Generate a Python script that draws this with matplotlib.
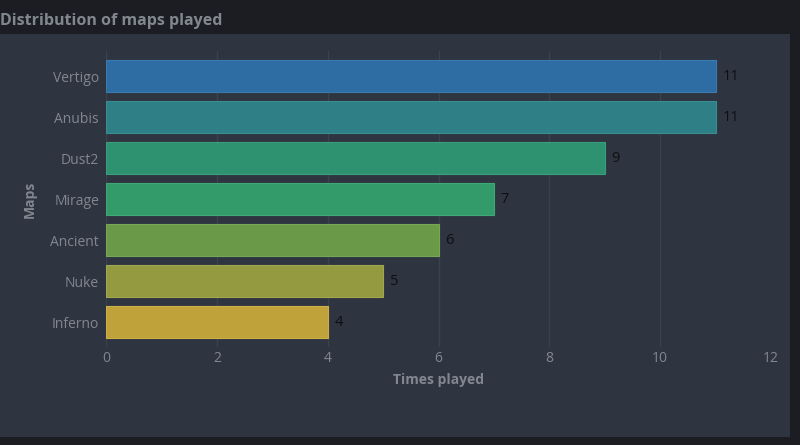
import numpy as np
import matplotlib
matplotlib.use('Agg')
from matplotlib import pyplot as plt

maps = ['Vertigo', 'Anubis', 'Dust2', 'Mirage', 'Ancient', 'Nuke', 'Inferno']
times_played = [11, 11, 9, 7, 6, 5, 4]
bar_colors = ['#2e6da4', '#2e8086', '#2e9271', '#339a6a', '#6a9948', '#939a3f', '#bfa23a']
x_ticks = [0, 2, 4, 6, 8, 10, 12]

plt.rcParams['font.family'] = ['Open Sans', 'DejaVu Sans']

fig = plt.figure(figsize=(8, 4.45), dpi=100)
fig.patch.set_facecolor('#1b1d23')

# lighter panel behind the plot
bg = fig.add_axes([0, 1 - 437 / 445, 790 / 800, (437 - 34) / 445])
bg.set_facecolor('#2e3541')
bg.set_xticks([])
bg.set_yticks([])
for s in bg.spines.values():
    s.set_visible(False)
bg.set_zorder(0)

ax = fig.add_axes([106 / 800, 1 - 346.6 / 445, (771 - 106) / 800, (346.6 - 51.4) / 445])
ax.set_facecolor('none')
ax.set_zorder(1)

y = np.arange(len(maps))
bars = ax.barh(y, times_played, height=0.76, color=bar_colors, linewidth=0.8, zorder=3)
for b in bars:
    r, g, bl, a = b.get_facecolor()
    b.set_edgecolor((min(r + 0.05, 1), min(g + 0.05, 1), min(bl + 0.05, 1), 1))

for yi, v in zip(y, times_played):
    ax.text(v + 0.12, yi, str(v), va='center', ha='left', fontsize=10.5, color='#0d0f12', zorder=4)

ax.set_xlim(0, 12)
ax.set_ylim(len(maps) - 0.4, -0.6)
ax.set_xticks(x_ticks)
ax.set_yticks(y)
ax.set_yticklabels(maps)
ax.tick_params(axis='both', colors='#82878f', labelsize=10, length=0)
ax.tick_params(axis='y', pad=5)
ax.tick_params(axis='x', pad=3)
ax.grid(axis='x', color='#3a424e', linewidth=1, zorder=0)
for s in ax.spines.values():
    s.set_visible(False)

ax.set_xlabel('Times played', color='#82878f', fontsize=10, fontweight='bold', labelpad=5)
ax.set_ylabel('Maps', color='#82878f', fontsize=10, fontweight='bold', labelpad=10)

fig.text(0.0, 1 - 21 / 445, 'Distribution of maps played', color='#82878f',
         fontsize=11.5, fontweight='bold', ha='left', va='center')

plt.savefig('out.png', dpi=100, facecolor=fig.get_facecolor())
